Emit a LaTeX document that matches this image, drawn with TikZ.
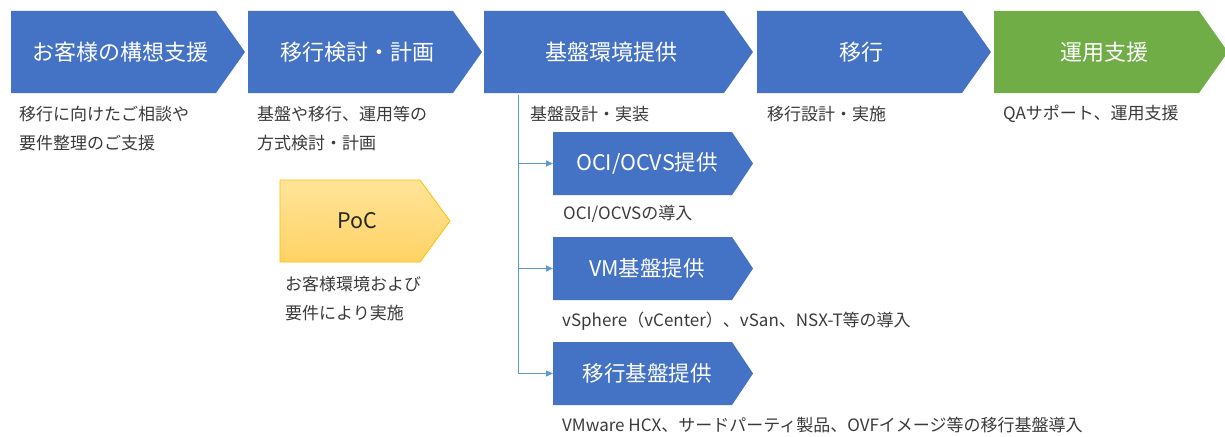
\documentclass[tikz,border=0pt]{standalone}
\usepackage{fontspec}
\setmainfont{Noto Sans CJK JP}
\usetikzlibrary{arrows.meta}
\definecolor{mblue}{HTML}{4472C4}
\definecolor{mgreen}{HTML}{70AD47}
\definecolor{lblue}{HTML}{5B9BD5}
\definecolor{txt}{HTML}{3A3A3A}
\definecolor{pocA}{HTML}{FFE499}
\definecolor{pocB}{HTML}{FFD264}
\definecolor{pocE}{HTML}{FFC000}
\newcommand\chev[6]{\path[#6] (#1,#2) -- (#3,#2) -- (#4,{(#2+#5)/2}) -- (#3,#5) -- (#1,#5) -- cycle;}
\tikzset{
  head/.style={text=white,font=\fontsize{22}{24}\selectfont,inner sep=0pt},
  subhead/.style={text=white,font=\fontsize{21.5}{24}\selectfont,inner sep=0pt},
  desc/.style={text=txt,font=\fontsize{17}{29}\selectfont,anchor=west,align=left,inner sep=0pt},
  conn/.style={draw=lblue,line width=0.9pt,-{Triangle[length=7pt,width=6pt]}}
}
\begin{document}
\begin{tikzpicture}[x=1pt,y=-1pt]
\useasboundingbox (0,0) rectangle (1225,436);
% main chevrons
\chev{11}{11}{216}{245}{93}{fill=mblue}
\chev{248}{11}{453}{482}{93}{fill=mblue}
\chev{484}{11}{724}{753}{93}{fill=mblue}
\chev{757}{11}{962}{991}{93}{fill=mblue}
\chev{994}{11}{1199}{1228}{93}{fill=mgreen}
\node[head] (h1) at (120.5,52) {お客様の構想支援};
\node[head] (h2) at (357.5,52) {移行検討・計画};
\node[head] (h3) at (611,52) {基盤環境提供};
\node[head] (h4) at (861,52) {移行};
\node[head] (h5) at (1104,52) {運用支援};
% descriptions
\node[desc] (d1) at (19,128.5) {移行に向けたご相談や\\要件整理のご支援};
\node[desc] (d2) at (257,128.5) {基盤や移行、運用等の\\方式検討・計画};
\node[desc] (d3) at (530,114) {基盤設計・実装};
\node[desc] (d4) at (767,114) {移行設計・実施};
\node[desc] (d5) at (1003,114) {QAサポート、運用支援};
% PoC
\chev{280}{180}{420}{450}{262}{top color=pocA,bottom color=pocB}
\chev{280}{180}{420}{450}{262}{draw=pocE,line width=0.8pt}
\node[text=black!85,font=\fontsize{21.5}{24}\selectfont,inner sep=0pt] (poc) at (357.5,221) {PoC};
\node[desc] (dpoc) at (285,299) {お客様環境および\\要件により実施};
% sub chevrons
\chev{553}{132}{732}{753}{195}{fill=mblue}
\chev{553}{237}{732}{753}{300}{fill=mblue}
\chev{553}{342}{732}{753}{405}{fill=mblue}
\node[subhead] (s1) at (647,163.5) {OCI/OCVS提供};
\node[subhead] (s2) at (647,268.5) {VM基盤提供};
\node[subhead] (s3) at (647,373.5) {移行基盤提供};
\coordinate (s1w) at (553,163.5);
\coordinate (s2w) at (553,268.5);
\coordinate (s3w) at (553,373.5);
\coordinate (trunk) at (518,95);
\draw[conn] (trunk) |- (s1w);
\draw[conn] (trunk) |- (s2w);
\draw[conn] (trunk) |- (s3w);
\node[desc] (ds1) at (563,214) {OCI/OCVSの導入};
\node[desc] (ds2) at (562,321) {vSphere（vCenter）、vSan、NSX-T等の導入};
\node[desc] (ds3) at (562,425) {VMware HCX、サードパーティ製品、OVFイメージ等の移行基盤導入};
\end{tikzpicture}
\end{document}
